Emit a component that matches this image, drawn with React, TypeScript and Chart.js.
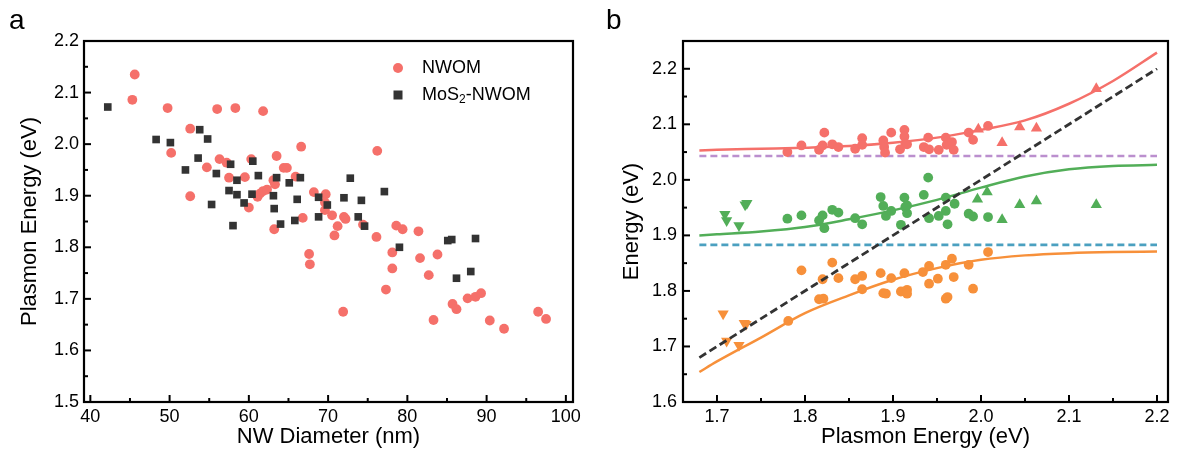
import React, { useEffect, useRef } from "react";
import { Chart, registerables } from "chart.js";

Chart.register(...registerables);

const FONT = "'Liberation Sans', Arial, Helvetica, sans-serif";

const RED = "#F5706A";
const DARK = "#333333";
const GREEN = "#52AE58";
const ORANGE = "#F7903A";
const PURPLE = "#BB8FCE";
const BLUE = "#4BA0C0";

// ---------------- Panel a ----------------
const aXTickLabels = ["40", "50", "60", "70", "80", "90", "100"];
const aXMinor = [45, 55, 65, 75, 85, 95];
const aYTickLabels = ["1.5", "1.6", "1.7", "1.8", "1.9", "2.0", "2.1", "2.2"];
const aYMinor = [1.55, 1.65, 1.75, 1.85, 1.95, 2.05, 2.15];

const nwomDiameter = [
  45.6, 45.3, 49.75, 56.0, 58.3, 61.8, 52.6, 50.2, 66.6, 56.3, 57.2, 60.3, 63.5, 54.7, 64.4, 64.8,
  57.5, 59.5, 65.9, 63.1, 63.3, 52.6, 61.1, 61.4, 61.8, 62.3, 68.2, 69.7, 69.6, 69.6, 60.0, 76.2,
  70.5, 66.8, 72.0, 72.2, 63.2, 71.2, 70.8, 74.4, 76.1, 78.6, 79.4, 81.4, 67.6, 67.7, 78.1, 78.1,
  81.6, 83.8, 82.7, 77.3, 71.9, 83.3, 85.7, 86.2, 87.6, 88.6, 89.3, 90.4, 92.2, 96.5, 97.5,
];
const nwomEnergy = [
  2.135, 2.086, 2.07, 2.068, 2.07, 2.064, 2.03, 1.983, 1.995, 1.971, 1.964, 1.971, 1.977, 1.955, 1.954, 1.954,
  1.935, 1.936, 1.937, 1.93, 1.922, 1.899, 1.898, 1.904, 1.909, 1.912, 1.907, 1.903, 1.887, 1.872, 1.877, 1.987,
  1.862, 1.857, 1.859, 1.855, 1.835, 1.841, 1.823, 1.844, 1.82, 1.842, 1.835, 1.831, 1.787, 1.767, 1.79, 1.759,
  1.779, 1.786, 1.746, 1.718, 1.675, 1.659, 1.69, 1.68, 1.701, 1.704, 1.711, 1.658, 1.642, 1.675, 1.661,
];

const mos2Diameter = [
  42.2, 48.3, 50.1, 53.8, 54.8, 53.6, 52.0, 55.9, 57.7, 60.5, 58.5, 61.2, 63.5, 65.1, 66.5, 57.5,
  58.5, 60.4, 63.1, 59.4, 55.3, 63.2, 66.1, 68.8, 69.9, 72.8, 77.1, 72.0, 74.2, 64.0, 65.8, 68.8,
  73.8, 74.6, 79.0, 85.1, 85.6, 88.6, 86.2, 88.0, 58.0,
];
const mos2Energy = [
  2.072, 2.009, 2.003, 2.028, 2.01, 1.973, 1.95, 1.943, 1.961, 1.967, 1.93, 1.939, 1.935, 1.925, 1.935, 1.91,
  1.902, 1.903, 1.9, 1.886, 1.883, 1.875, 1.893, 1.897, 1.882, 1.934, 1.908, 1.896, 1.891, 1.845, 1.852, 1.859,
  1.859, 1.841, 1.8, 1.813, 1.815, 1.817, 1.74, 1.753, 1.842,
];

// ---------------- Panel b ----------------
const bXTickLabels = ["1.7", "1.8", "1.9", "2.0", "2.1", "2.2"];
const bXMinor = [1.75, 1.85, 1.95, 2.05, 2.15];
const bYTickLabels = ["1.6", "1.7", "1.8", "1.9", "2.0", "2.1", "2.2"];
const bYMinor = [1.65, 1.75, 1.85, 1.95, 2.05, 2.15];

const upperCircleX = [
  1.78, 1.796, 1.822, 1.816, 1.82, 1.831, 1.838, 1.857, 1.865, 1.865, 1.889, 1.89, 1.891, 1.898, 1.913,
  1.913, 1.914, 1.916, 1.908, 1.94, 1.935, 1.941, 1.952, 1.96, 1.961, 1.967, 1.969, 1.986, 1.991, 2.008,
];
const upperCircleY = [
  2.05, 2.062, 2.085, 2.054, 2.062, 2.064, 2.059, 2.056, 2.075, 2.063, 2.071, 2.059, 2.049, 2.085, 2.09,
  2.078, 2.065, 2.064, 2.055, 2.076, 2.059, 2.055, 2.054, 2.076, 2.063, 2.068, 2.054, 2.085, 2.072, 2.097,
];
const upperTriX = [1.997, 2.024, 2.044, 2.063, 2.131];
const upperTriY = [2.091, 2.067, 2.095, 2.093, 2.164];

const middleCircleX = [
  1.78, 1.796, 1.816, 1.82, 1.822, 1.831, 1.838, 1.857, 1.865, 1.886, 1.889, 1.892, 1.898, 1.909, 1.913,
  1.914, 1.916, 1.916, 1.935, 1.94, 1.941, 1.952, 1.96, 1.97, 1.96, 1.962, 1.986, 1.991, 2.008,
];
const middleCircleY = [
  1.93, 1.936, 1.927, 1.936, 1.913, 1.946, 1.941, 1.931, 1.92, 1.969, 1.953, 1.935, 1.944, 1.919, 1.968,
  1.951, 1.94, 1.954, 1.973, 2.004, 1.931, 1.935, 1.968, 1.957, 1.944, 1.92, 1.939, 1.934, 1.933,
];
const middleTriUpX = [1.996, 2.007, 2.024, 2.044, 2.063, 2.131];
const middleTriUpY = [1.965, 1.978, 1.928, 1.955, 1.962, 1.955];
const middleTriDownX = [1.709, 1.711, 1.725, 1.732, 1.734];
const middleTriDownY = [1.938, 1.927, 1.918, 1.955, 1.958];

const lowerCircleX = [
  1.781, 1.796, 1.816, 1.821, 1.82, 1.831, 1.838, 1.857, 1.865, 1.865, 1.886, 1.889, 1.892, 1.898, 1.913,
  1.909, 1.916, 1.916, 1.934, 1.941, 1.941, 1.951, 1.96, 1.967, 1.969, 1.96, 1.962, 2.008, 1.986, 1.991,
];
const lowerCircleY = [
  1.746, 1.837, 1.785, 1.786, 1.821, 1.851, 1.823, 1.821, 1.827, 1.803, 1.832, 1.796, 1.795, 1.823, 1.832,
  1.799, 1.802, 1.795, 1.834, 1.845, 1.813, 1.822, 1.847, 1.858, 1.825, 1.786, 1.789, 1.87, 1.847, 1.804,
];
const lowerTriDownX = [1.707, 1.711, 1.725, 1.731, 1.733];
const lowerTriDownY = [1.759, 1.71, 1.702, 1.742, 1.74];

const fitX = [1.68, 1.7, 1.75, 1.8, 1.85, 1.9, 1.95, 2.0, 2.05, 2.1, 2.15, 2.2];
const fitUpper = [2.053, 2.054, 2.056, 2.058, 2.061, 2.067, 2.076, 2.09, 2.107, 2.137, 2.178, 2.229];
const fitMiddle = [1.9, 1.902, 1.907, 1.915, 1.929, 1.945, 1.964, 1.986, 2.006, 2.019, 2.025, 2.027];
const fitLower = [1.654, 1.673, 1.716, 1.76, 1.792, 1.82, 1.841, 1.856, 1.864, 1.868, 1.87, 1.871];

const lineRangeX = [1.68, 2.2];
const excitonB = [2.043, 2.043];
const excitonA = [1.883, 1.883];
const diagonalY = [1.68, 2.2];

const zip = (xs: number[], ys: number[]) => xs.map((x, i) => ({ x, y: ys[i] }));
const nums = (labels: string[]) => labels.map((l) => parseFloat(l));

function framePlugin(xMajor: number[], xMinor: number[], yMajor: number[], yMinor: number[]) {
  return {
    id: "frameTicks",
    afterDraw(chart: any) {
      const { ctx, chartArea } = chart;
      const { left, right, top, bottom } = chartArea;
      const xs = chart.scales.x;
      const ys = chart.scales.y;
      ctx.save();
      ctx.strokeStyle = "#000";
      ctx.lineWidth = 2;
      const seg = (x1: number, y1: number, x2: number, y2: number) => {
        ctx.beginPath();
        ctx.moveTo(x1, y1);
        ctx.lineTo(x2, y2);
        ctx.stroke();
      };
      xMajor.forEach((v) => {
        const p = xs.getPixelForValue(v);
        seg(p, bottom, p, bottom - 7);
      });
      xMinor.forEach((v) => {
        const p = xs.getPixelForValue(v);
        seg(p, bottom, p, bottom - 4);
      });
      yMajor.forEach((v) => {
        const p = ys.getPixelForValue(v);
        seg(left, p, left + 7, p);
      });
      yMinor.forEach((v) => {
        const p = ys.getPixelForValue(v);
        seg(left, p, left + 4, p);
      });
      ctx.lineWidth = 2.2;
      ctx.strokeRect(left, top, right - left, bottom - top);
      ctx.restore();
    },
  };
}

const legendPluginA = {
  id: "legendA",
  afterDraw(chart: any) {
    const ctx = chart.ctx;
    ctx.save();
    ctx.fillStyle = RED;
    ctx.beginPath();
    ctx.arc(398, 68, 5, 0, Math.PI * 2);
    ctx.fill();
    ctx.fillStyle = DARK;
    ctx.fillRect(393.5, 90.5, 9, 9);
    ctx.fillStyle = "#000";
    ctx.textBaseline = "middle";
    ctx.font = `18px ${FONT}`;
    ctx.fillText("NWOM", 422, 68);
    ctx.fillText("MoS", 422, 95);
    let w = ctx.measureText("MoS").width;
    ctx.font = `12px ${FONT}`;
    ctx.fillText("2", 422 + w, 100);
    w += ctx.measureText("2").width;
    ctx.font = `18px ${FONT}`;
    ctx.fillText("-NWOM", 422 + w, 95);
    ctx.restore();
  },
};

function axisCommon(
  labels: string[],
  min: number,
  max: number,
  title: string,
  isX: boolean,
  fixedSize: number,
  titlePad: any,
  tickPad: number
) {
  const values = nums(labels);
  return {
    type: "linear",
    min,
    max,
    afterBuildTicks: (s: any) => {
      s.ticks = values.map((v) => ({ value: v }));
    },
    afterFit: (s: any) => {
      if (isX) s.height = fixedSize;
      else s.width = fixedSize;
    },
    grid: { display: false, drawTicks: false },
    border: { display: false },
    ticks: {
      autoSkip: false,
      maxRotation: 0,
      padding: tickPad,
      color: "#000",
      font: { size: 18, family: FONT },
      callback: (_v: any, i: number) => labels[i],
    },
    title: {
      display: true,
      text: title,
      color: "#000",
      font: { size: 22, family: FONT },
      padding: titlePad,
    },
  };
}

function pointSet(data: any[], color: string, style: string, radius: number, rotation = 0) {
  return {
    data,
    showLine: false,
    pointStyle: style,
    pointRadius: radius,
    pointHoverRadius: radius,
    pointRotation: rotation,
    backgroundColor: color,
    borderColor: color,
    borderWidth: 0,
    order: 1,
  };
}

function lineSet(data: any[], color: string, width: number, dash: number[] = [], order = 5) {
  return {
    data,
    showLine: true,
    pointRadius: 0,
    pointHoverRadius: 0,
    borderColor: color,
    backgroundColor: color,
    borderWidth: width,
    borderDash: dash,
    cubicInterpolationMode: "monotone",
    fill: false,
    order,
  };
}

export default function App() {
  const refA = useRef<HTMLCanvasElement>(null);
  const refB = useRef<HTMLCanvasElement>(null);

  useEffect(() => {
    const chartA = new Chart(refA.current as HTMLCanvasElement, {
      type: "scatter",
      data: {
        datasets: [
          pointSet(zip(mos2Diameter, mos2Energy), DARK, "rect", 5.4),
          pointSet(zip(nwomDiameter, nwomEnergy), RED, "circle", 4.9),
        ] as any,
      },
      options: {
        responsive: false,
        animation: false,
        devicePixelRatio: 1,
        layout: { padding: { left: 0, right: 22, top: 41, bottom: 0 } },
        plugins: { legend: { display: false }, tooltip: { enabled: false } },
        scales: {
          x: axisCommon(aXTickLabels, 39.2, 100.9, "NW Diameter (nm)", true, 52, { top: 0, bottom: 4 }, 4),
          y: axisCommon(aYTickLabels, 1.5, 2.2, "Plasmon Energy (eV)", false, 84, { top: 17, bottom: 0 }, 5),
        } as any,
      },
      plugins: [framePlugin(nums(aXTickLabels), aXMinor, nums(aYTickLabels), aYMinor), legendPluginA],
    } as any);

    const chartB = new Chart(refB.current as HTMLCanvasElement, {
      type: "scatter",
      data: {
        datasets: [
          lineSet(zip(lineRangeX, diagonalY), DARK, 2.8, [8, 4], 0),
          pointSet(zip(upperCircleX, upperCircleY), RED, "circle", 4.9),
          pointSet(zip(upperTriX, upperTriY), RED, "triangle", 6.5),
          pointSet(zip(middleCircleX, middleCircleY), GREEN, "circle", 4.9),
          pointSet(zip(middleTriUpX, middleTriUpY), GREEN, "triangle", 6.5),
          pointSet(zip(middleTriDownX, middleTriDownY), GREEN, "triangle", 6.5, 180),
          pointSet(zip(lowerCircleX, lowerCircleY), ORANGE, "circle", 4.9),
          pointSet(zip(lowerTriDownX, lowerTriDownY), ORANGE, "triangle", 6.5, 180),
          lineSet(zip(lineRangeX, excitonB), PURPLE, 2.6, [7, 4]),
          lineSet(zip(lineRangeX, excitonA), BLUE, 2.6, [7, 4]),
          lineSet(zip(fitX, fitUpper), RED, 2.5),
          lineSet(zip(fitX, fitMiddle), GREEN, 2.5),
          lineSet(zip(fitX, fitLower), ORANGE, 2.5),
        ] as any,
      },
      options: {
        responsive: false,
        animation: false,
        devicePixelRatio: 1,
        layout: { padding: { left: 0, right: 12, top: 41, bottom: 0 } },
        plugins: { legend: { display: false }, tooltip: { enabled: false } },
        scales: {
          x: axisCommon(bXTickLabels, 1.6614, 2.2125, "Plasmon Energy (eV)", true, 52, { top: 0, bottom: 4 }, 4),
          y: axisCommon(bYTickLabels, 1.6, 2.25, "Energy (eV)", false, 88, { top: 24, bottom: 0 }, 6),
        } as any,
      },
      plugins: [framePlugin(nums(bXTickLabels), bXMinor, nums(bYTickLabels), bYMinor)],
    } as any);

    return () => {
      chartA.destroy();
      chartB.destroy();
    };
  }, []);

  const labelStyle: React.CSSProperties = {
    position: "absolute",
    fontFamily: FONT,
    fontSize: 28,
    lineHeight: "28px",
    color: "#000",
  };

  return (
    <div
      style={{
        position: "fixed",
        left: 0,
        top: 0,
        width: 1180,
        height: 454,
        background: "#fff",
        overflow: "hidden",
      }}
    >
      <canvas ref={refA} width={595} height={454} style={{ position: "absolute", left: 0, top: 0 }} />
      <canvas ref={refB} width={585} height={454} style={{ position: "absolute", left: 595, top: 0 }} />
      <div style={{ ...labelStyle, left: 9, top: 6 }}>a</div>
      <div style={{ ...labelStyle, left: 606, top: 6 }}>b</div>
    </div>
  );
}
